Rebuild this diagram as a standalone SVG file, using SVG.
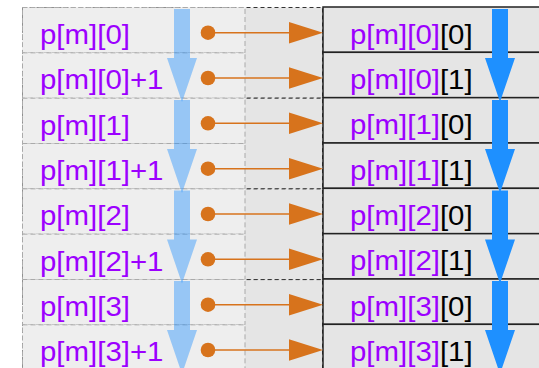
<svg xmlns="http://www.w3.org/2000/svg" width="539" height="368" viewBox="0 0 539 368">
<defs>
<style>
.pair{fill:#e5e5e5;stroke:#333;stroke-width:1;stroke-dasharray:4,3}
.lc{fill:#eeeeee;stroke:#aaaaaa;stroke-width:1;stroke-dasharray:5,3}
.rc{fill:#e5e5e5;stroke:#222;stroke-width:1.5}
.t{font-family:"Liberation Sans",Arial,sans-serif;font-size:27px;fill:#9c00ff}
.k{fill:#000}
.lb{fill:#1e90ff;opacity:0.42}
.rb{fill:#1e90ff}
.con{stroke:#d7731c;stroke-width:1.5;fill:none}
.dot{fill:#d7731c}
.ah{fill:#d7731c}
</style>
<path id="arr" d="M-8,0 H8 V49 H15 L0,93 L-15,49 H-8 Z"/>
</defs>
<g id="pairs">
<rect class="pair" x="22.5" y="7.5" width="300" height="90.7"/>
<rect class="pair" x="22.5" y="98.2" width="300" height="90.7"/>
<rect class="pair" x="22.5" y="188.9" width="300" height="90.7"/>
<rect class="pair" x="22.5" y="279.6" width="300" height="90.7"/>
</g>
<g id="left-cells">
<g id="l0"><rect class="lc" x="22.5" y="7.5" width="222.5" height="45.33"/><text class="t" transform="translate(40 44) scale(1.09 1)">p[m][0]</text></g>
<g id="l1"><rect class="lc" x="22.5" y="52.83" width="222.5" height="45.33"/><text class="t" transform="translate(40 89.3) scale(1.09 1)">p[m][0]+1</text></g>
<g id="l2"><rect class="lc" x="22.5" y="98.17" width="222.5" height="45.33"/><text class="t" transform="translate(40 134.7) scale(1.09 1)">p[m][1]</text></g>
<g id="l3"><rect class="lc" x="22.5" y="143.5" width="222.5" height="45.33"/><text class="t" transform="translate(40 180) scale(1.09 1)">p[m][1]+1</text></g>
<g id="l4"><rect class="lc" x="22.5" y="188.83" width="222.5" height="45.33"/><text class="t" transform="translate(40 225.3) scale(1.09 1)">p[m][2]</text></g>
<g id="l5"><rect class="lc" x="22.5" y="234.17" width="222.5" height="45.33"/><text class="t" transform="translate(40 270.7) scale(1.09 1)">p[m][2]+1</text></g>
<g id="l6"><rect class="lc" x="22.5" y="279.5" width="222.5" height="45.33"/><text class="t" transform="translate(40 316) scale(1.09 1)">p[m][3]</text></g>
<g id="l7"><rect class="lc" x="22.5" y="324.83" width="222.5" height="45.33"/><text class="t" transform="translate(40 361.3) scale(1.09 1)">p[m][3]+1</text></g>
</g>
<g id="right-cells">
<g id="r0"><rect class="rc" x="323" y="7" width="240" height="45.33"/><text class="t" transform="translate(350 43.5) scale(1.09 1)">p[m][0]<tspan class="k">[0]</tspan></text></g>
<g id="r1"><rect class="rc" x="323" y="52.33" width="240" height="45.33"/><text class="t" transform="translate(350 88.8) scale(1.09 1)">p[m][0]<tspan class="k">[1]</tspan></text></g>
<g id="r2"><rect class="rc" x="323" y="97.67" width="240" height="45.33"/><text class="t" transform="translate(350 134.2) scale(1.09 1)">p[m][1]<tspan class="k">[0]</tspan></text></g>
<g id="r3"><rect class="rc" x="323" y="143" width="240" height="45.33"/><text class="t" transform="translate(350 179.5) scale(1.09 1)">p[m][1]<tspan class="k">[1]</tspan></text></g>
<g id="r4"><rect class="rc" x="323" y="188.33" width="240" height="45.33"/><text class="t" transform="translate(350 224.8) scale(1.09 1)">p[m][2]<tspan class="k">[0]</tspan></text></g>
<g id="r5"><rect class="rc" x="323" y="233.67" width="240" height="45.33"/><text class="t" transform="translate(350 270.2) scale(1.09 1)">p[m][2]<tspan class="k">[1]</tspan></text></g>
<g id="r6"><rect class="rc" x="323" y="279" width="240" height="45.33"/><text class="t" transform="translate(350 315.5) scale(1.09 1)">p[m][3]<tspan class="k">[0]</tspan></text></g>
<g id="r7"><rect class="rc" x="323" y="324.33" width="240" height="45.33"/><text class="t" transform="translate(350 360.8) scale(1.09 1)">p[m][3]<tspan class="k">[1]</tspan></text></g>
</g>
<g id="flow-arrows">
<use href="#arr" class="lb" x="182" y="9"/>
<use href="#arr" class="lb" x="182" y="100"/>
<use href="#arr" class="lb" x="182" y="190.5"/>
<use href="#arr" class="lb" x="182" y="281"/>
<use href="#arr" class="rb" x="500" y="9"/>
<use href="#arr" class="rb" x="500" y="100"/>
<use href="#arr" class="rb" x="500" y="190.5"/>
<use href="#arr" class="rb" x="500" y="281"/>
</g>
<g id="connectors">
<line class="con" x1="208" y1="32.7" x2="292" y2="32.7"/><circle class="dot" cx="208" cy="32.7" r="7.3"/><polygon class="ah" points="289,22 323,32.7 289,43.4"/>
<line class="con" x1="208" y1="78" x2="292" y2="78"/><circle class="dot" cx="208" cy="78" r="7.3"/><polygon class="ah" points="289,67.3 323,78 289,88.7"/>
<line class="con" x1="208" y1="123.3" x2="292" y2="123.3"/><circle class="dot" cx="208" cy="123.3" r="7.3"/><polygon class="ah" points="289,112.6 323,123.3 289,134"/>
<line class="con" x1="208" y1="168.7" x2="292" y2="168.7"/><circle class="dot" cx="208" cy="168.7" r="7.3"/><polygon class="ah" points="289,158 323,168.7 289,179.4"/>
<line class="con" x1="208" y1="214" x2="292" y2="214"/><circle class="dot" cx="208" cy="214" r="7.3"/><polygon class="ah" points="289,203.3 323,214 289,224.7"/>
<line class="con" x1="208" y1="259.3" x2="292" y2="259.3"/><circle class="dot" cx="208" cy="259.3" r="7.3"/><polygon class="ah" points="289,248.6 323,259.3 289,270"/>
<line class="con" x1="208" y1="304.7" x2="292" y2="304.7"/><circle class="dot" cx="208" cy="304.7" r="7.3"/><polygon class="ah" points="289,294 323,304.7 289,315.4"/>
<line class="con" x1="208" y1="350" x2="292" y2="350"/><circle class="dot" cx="208" cy="350" r="7.3"/><polygon class="ah" points="289,339.3 323,350 289,360.7"/>
</g>
</svg>
